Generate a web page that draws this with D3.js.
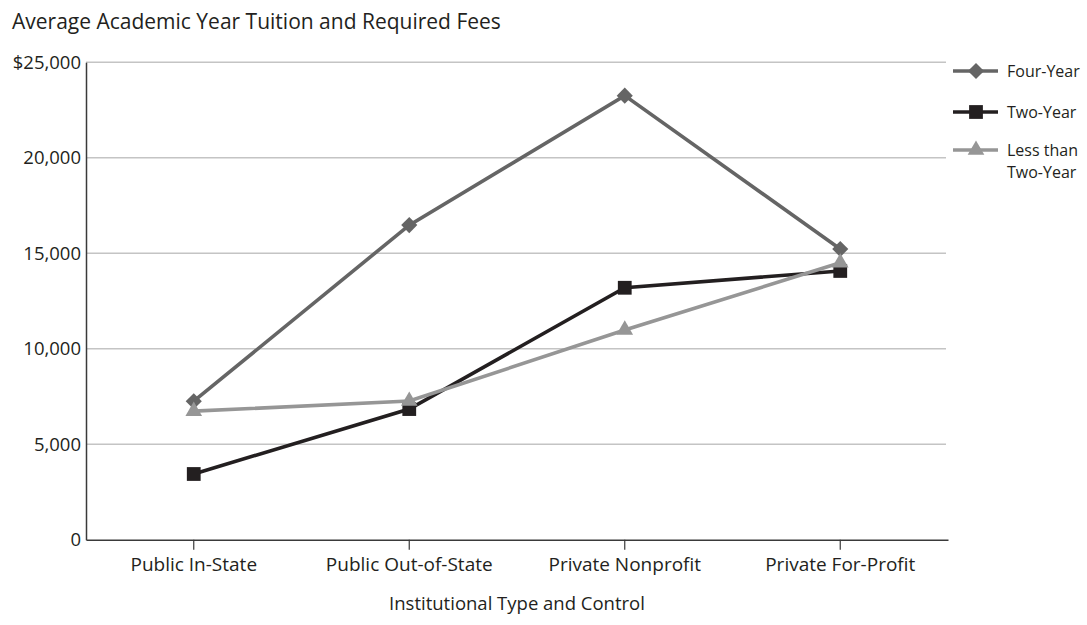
<!DOCTYPE html>
<html><head><meta charset="utf-8">
<script src="https://cdn.jsdelivr.net/npm/d3@7"></script>
<style>
body{margin:0;background:#fff;}
text{font-family:"Open Sans","Noto Sans",sans-serif;fill:#231f20;}
</style></head>
<body><svg id="c" width="1087" height="625"></svg>
<script>
const categories = ["Public In-State","Public Out-of-State","Private Nonprofit","Private For-Profit"];
const seriesNames = ["Four-Year","Two-Year","Less than Two-Year"];
const fourYear = [7250, 16470, 23250, 15220];
const twoYear = [3440, 6840, 13190, 14070];
const lessThanTwoYear = [6730, 7260, 10980, 14500];
const yTicks = [0, 5000, 10000, 15000, 20000, 25000];
const yTickLabels = ["0","5,000","10,000","15,000","20,000","$25,000"];

const series = [
  {name:"Four-Year", label:["Four-Year"], values:fourYear, color:"#656565", symbol:d3.symbolSquare, size:130, rot:45, width:3.6},
  {name:"Two-Year", label:["Two-Year"], values:twoYear, color:"#231f20", symbol:d3.symbolSquare, size:190, rot:0, width:3.6},
  {name:"Less than Two-Year", label:["Less than","Two-Year"], values:lessThanTwoYear, color:"#969696", symbol:d3.symbolTriangle, size:120, rot:0, width:3.6}
];

const FONT = '"Open Sans","Noto Sans",sans-serif';
const svg = d3.select("#c");
const mLeft=86, mRight=948, mTop=62.2, mBottom=539.7;
const x = d3.scaleBand().domain(categories).range([mLeft,mRight]);
const y = d3.scaleLinear().domain([0,25000]).range([mBottom,mTop]);

// title
svg.append("text").attr("x",12).attr("y",29).attr("font-size",21).text("Average Academic Year Tuition and Required Fees");

// gridlines
svg.append("g").selectAll("line").data(yTicks.filter(d=>d>0)).join("line")
  .attr("x1",mLeft).attr("x2",mRight-2).attr("y1",d=>y(d)).attr("y2",d=>y(d))
  .attr("stroke","#c4c4c4").attr("stroke-width",1.4);

// y axis
const yAxis = svg.append("g").attr("transform",`translate(${mLeft},0)`)
  .call(d3.axisLeft(y).tickValues(yTicks).tickFormat((d,i)=>yTickLabels[i]).tickSize(0).tickPadding(5));
yAxis.select(".domain").attr("stroke","#3a3a3a").attr("stroke-width",1.5);
yAxis.selectAll("text").attr("font-size",18.5).attr("fill","#231f20").style("font-family",FONT);

// x axis
const xAxis = svg.append("g").attr("transform",`translate(0,${mBottom})`)
  .call(d3.axisBottom(x).tickSizeOuter(0).tickSizeInner(10).tickPadding(8));
xAxis.select(".domain").attr("stroke","#3a3a3a").attr("stroke-width",1.5);
xAxis.selectAll(".tick line").attr("stroke","#3a3a3a").attr("stroke-width",1.2);
xAxis.selectAll("text").attr("font-size",19).attr("fill","#231f20").style("font-family",FONT);

svg.append("text").attr("x",(mLeft+mRight)/2).attr("y",610).attr("text-anchor","middle").attr("font-size",18.5)
  .text("Institutional Type and Control");

const cx = d=>x(d)+x.bandwidth()/2;
const line = d3.line().x(d=>cx(d.c)).y(d=>y(d.v));

series.forEach(s=>{
  const pts = categories.map((c,i)=>({c, v:s.values[i]}));
  svg.append("path").datum(pts).attr("d",line).attr("fill","none").attr("stroke",s.color).attr("stroke-width",s.width).attr("stroke-linejoin","miter");
  svg.append("g").selectAll("path").data(pts).join("path")
    .attr("d",d3.symbol().type(s.symbol).size(s.size))
    .attr("transform",d=>`translate(${cx(d.c)},${y(d.v)}) rotate(${s.rot})`)
    .attr("fill",s.color);
});

// legend
const legY = [71, 112, 150];
series.forEach((s,i)=>{
  const g = svg.append("g").attr("transform",`translate(0,${legY[i]})`);
  g.append("line").attr("x1",953).attr("x2",998).attr("y1",0).attr("y2",0).attr("stroke",s.color).attr("stroke-width",s.width);
  g.append("path").attr("d",d3.symbol().type(s.symbol).size(s.size)).attr("transform",`translate(976,0) rotate(${s.rot})`).attr("fill",s.color);
  s.label.forEach((t,j)=>{
    g.append("text").attr("x",1007).attr("y",j*22).attr("dy","0.35em").attr("font-size",16).text(t);
  });
});
</script></body></html>
